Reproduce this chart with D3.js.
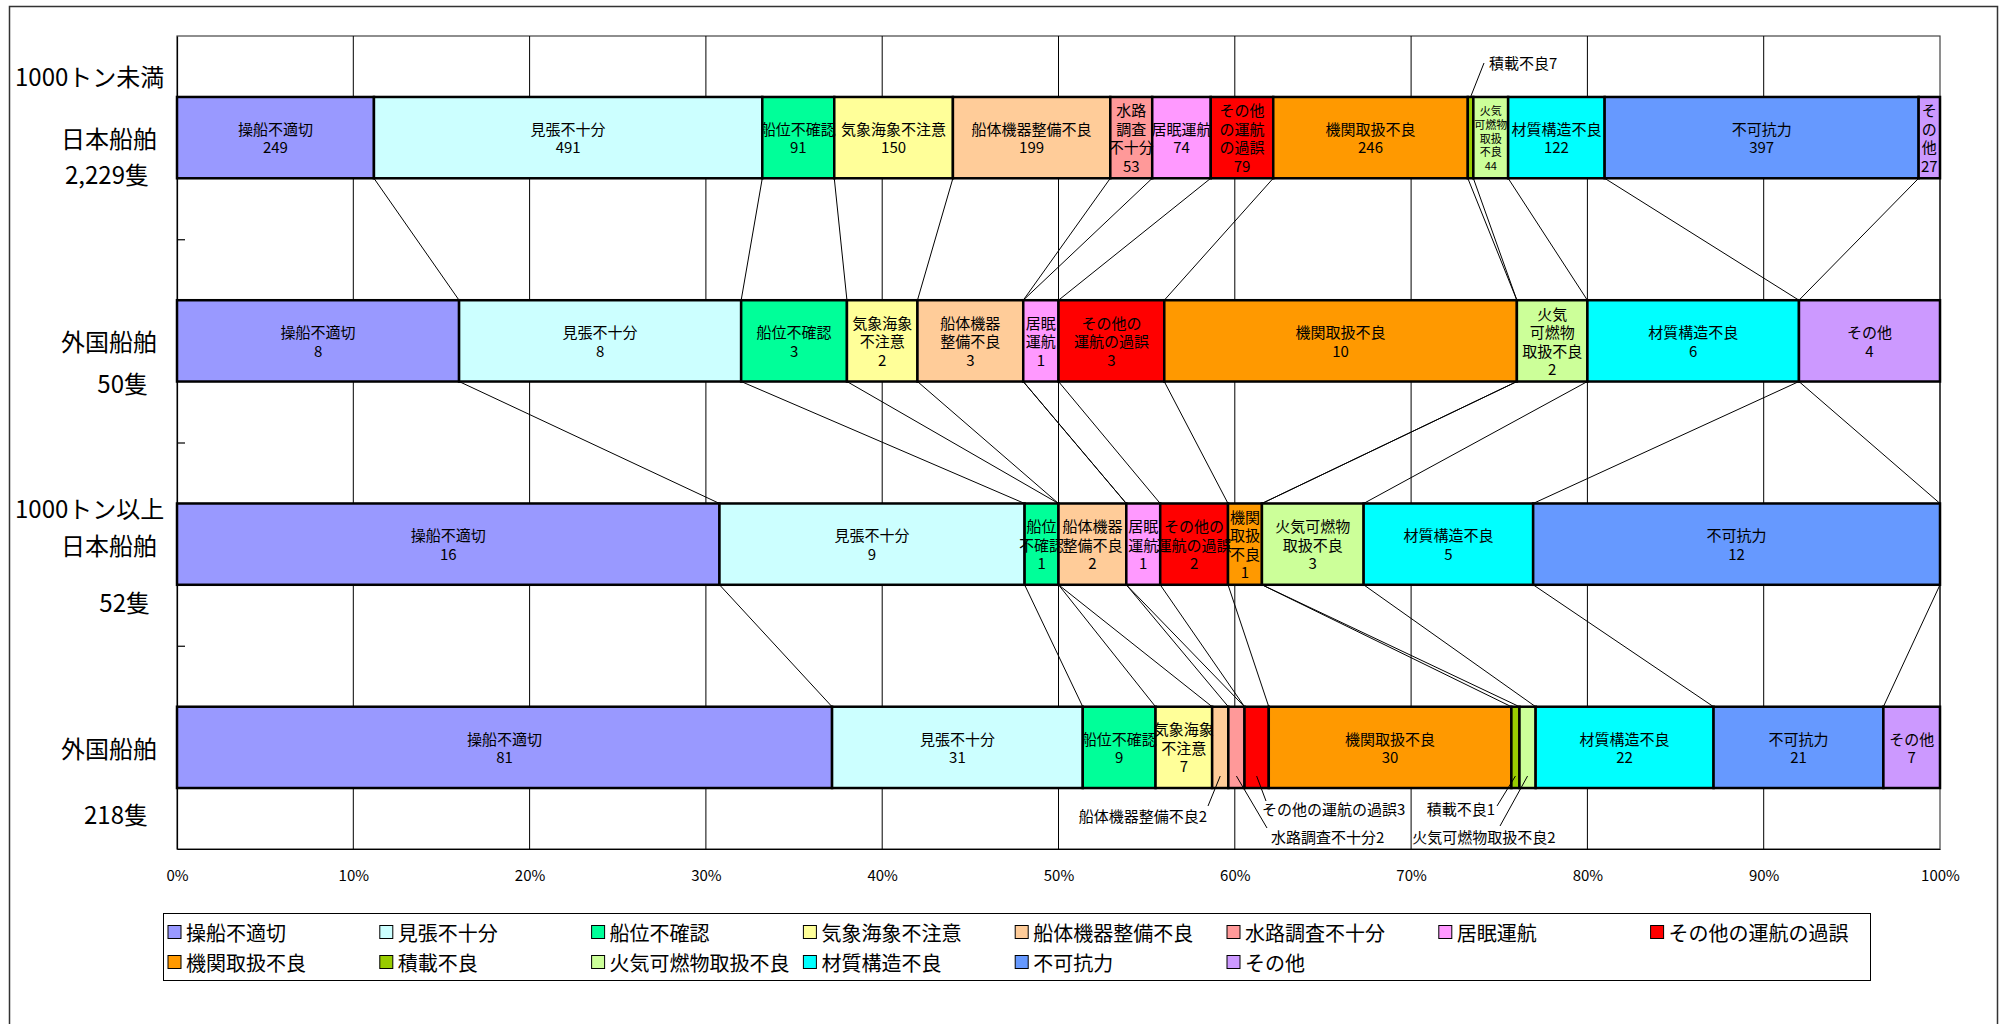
<!DOCTYPE html>
<html>
<head>
<meta charset="utf-8">
<script src="https://cdn.jsdelivr.net/npm/d3@7"></script>
<style>
  body { margin: 0; background: #fff; }
  text { font-family: "Noto Sans CJK JP", "Noto Sans", sans-serif; fill: #000; }
</style>
</head>
<body>
<svg id="chart" width="2013" height="1024"></svg>
<script>
// causes of accidents (series), in stacking order
var causes = ["操船不適切", "見張不十分", "船位不確認", "気象海象不注意", "船体機器整備不良", "水路調査不十分",
  "居眠運航", "その他の運航の過誤", "機関取扱不良", "積載不良", "火気可燃物取扱不良", "材質構造不良", "不可抗力", "その他"];
var colors = ["#9999FF", "#CCFFFF", "#00FF99", "#FFFF99", "#FFCC99", "#FF9999",
  "#FF99FF", "#FF0000", "#FF9900", "#99CC00", "#CCFF99", "#00FFFF", "#6699FF", "#CC99FF"];

// one array per bar (top to bottom)
var jpnUnder1000 = [249, 491, 91, 150, 199, 53, 74, 79, 246, 7, 44, 122, 397, 27];
var forUnder1000 = [8, 8, 3, 2, 3, 0, 1, 3, 10, 0, 2, 6, 0, 4];
var jpnOver1000 = [16, 9, 1, 0, 2, 0, 1, 2, 1, 0, 3, 5, 12, 0];
var forOver1000 = [81, 31, 9, 7, 2, 2, 0, 3, 30, 1, 2, 22, 21, 7];

// category labels on the left, line by line
var rowNames = [["1000トン未満", "日本船舶", "2,229隻"], ["外国船舶", "50隻"], ["1000トン以上", "日本船舶", "52隻"], ["外国船舶", "218隻"]];

// labels inside the segments ("|" = line break, null = no inner label)
var inLabels = [
  ["操船不適切", "見張不十分", "船位不確認", "気象海象不注意", "船体機器整備不良", "水路|調査|不十分", "居眠運航", "その他|の運航|の過誤", "機関取扱不良", null, "火気|可燃物|取扱|不良", "材質構造不良", "不可抗力", "そ|の|他"],
  ["操船不適切", "見張不十分", "船位不確認", "気象海象|不注意", "船体機器|整備不良", null, "居眠|運航", "その他の|運航の過誤", "機関取扱不良", null, "火気|可燃物|取扱不良", "材質構造不良", null, "その他"],
  ["操船不適切", "見張不十分", "船位|不確認", null, "船体機器|整備不良", null, "居眠|運航", "その他の|運航の過誤", "機関|取扱|不良", null, "火気可燃物|取扱不良", "材質構造不良", "不可抗力", null],
  ["操船不適切", "見張不十分", "船位不確認", "気象海象|不注意", null, null, null, null, "機関取扱不良", null, null, "材質構造不良", "不可抗力", "その他"]
];

// labels drawn outside with a leader line: [bar, cause]
var callouts = [[0, 9], [3, 4], [3, 7], [3, 5], [3, 9], [3, 10]];

var ticks = [0, 0.1, 0.2, 0.3, 0.4, 0.5, 0.6, 0.7, 0.8, 0.9, 1];

var bars = [jpnUnder1000, forUnder1000, jpnOver1000, forOver1000];

var svg = d3.select("#chart");
var plotL = 177, plotR = 1940, plotT = 36, plotB = 849;

var x = d3.scaleLinear().domain([0, 1]).range([plotL, plotR]);
var y = d3.scaleBand().domain(d3.range(bars.length)).range([plotT, plotB]).paddingInner(0.6).paddingOuter(0.3);
var bw = y.bandwidth();

var rows = bars.map(function(vals, i) {
  var o = {bar: i};
  causes.forEach(function(c, j) { o[c] = vals[j]; });
  return o;
});
var stacked = d3.stack().keys(causes).offset(d3.stackOffsetExpand)(rows);

// outer chart frame
svg.append("path")
  .attr("d", "M9.5,1030V6.5H1997.5V1030")
  .attr("fill", "none").attr("stroke", "#333").attr("stroke-width", 1.5);

// plot frame and grid
svg.append("rect")
  .attr("x", plotL).attr("y", plotT).attr("width", plotR - plotL).attr("height", plotB - plotT)
  .attr("fill", "#fff").attr("stroke", "#444").attr("stroke-width", 1.2);

svg.append("g").selectAll("line")
  .data(ticks.slice(1, -1))
  .enter().append("line")
  .attr("x1", function(d) { return x(d); }).attr("x2", function(d) { return x(d); })
  .attr("y1", plotT).attr("y2", plotB)
  .attr("stroke", "#000").attr("stroke-width", 1);

// x axis
var xAxis = svg.append("g")
  .attr("transform", "translate(0," + plotB + ")")
  .call(d3.axisBottom(x).tickValues(ticks).tickFormat(d3.format(".0%")).tickSize(0).tickSizeOuter(0).tickPadding(21));
xAxis.select(".domain").attr("stroke", "#000").attr("stroke-width", 1.2);
xAxis.selectAll("text").style("font-size", "15px").attr("fill", "#000");

// y axis with inside ticks between categories
var yb = d3.scaleLinear().domain([0, bars.length]).range([plotT, plotB]);
var yAxis = svg.append("g")
  .attr("transform", "translate(" + plotL + ",0)")
  .call(d3.axisLeft(yb).tickValues([1, 2, 3]).tickSize(-8).tickSizeOuter(0).tickFormat(""));
yAxis.selectAll("line, .domain").attr("stroke", "#000").attr("stroke-width", 1.2);

// series lines between adjacent bars
var sl = [];
for (var i = 0; i < bars.length - 1; i++) {
  for (var j = 0; j < causes.length; j++) {
    sl.push({x1: x(stacked[j][i][1]), y1: y(i) + bw, x2: x(stacked[j][i + 1][1]), y2: y(i + 1)});
  }
}
svg.append("g").selectAll("line")
  .data(sl)
  .enter().append("line")
  .attr("x1", function(d) { return d.x1; }).attr("y1", function(d) { return d.y1; })
  .attr("x2", function(d) { return d.x2; }).attr("y2", function(d) { return d.y2; })
  .attr("stroke", "#000").attr("stroke-width", 1);

// segments
var segs = [];
stacked.forEach(function(s, j) {
  s.forEach(function(d, i) {
    if (bars[i][j] > 0) segs.push({bar: i, cause: j, x0: d[0], x1: d[1], value: bars[i][j]});
  });
});

svg.append("g").selectAll("rect")
  .data(segs)
  .enter().append("rect")
  .attr("x", function(d) { return x(d.x0); })
  .attr("y", function(d) { return y(d.bar); })
  .attr("width", function(d) { return x(d.x1) - x(d.x0); })
  .attr("height", bw)
  .attr("fill", function(d) { return colors[d.cause]; })
  .attr("stroke", "#000").attr("stroke-width", 2.5);

// inner labels
var lab = svg.append("g");
segs.forEach(function(d) {
  var t = inLabels[d.bar][d.cause];
  if (!t) return;
  var small = (d.bar === 0 && d.cause === 10);
  var fs = small ? 11 : 15, lh = small ? 13.7 : 18.5;
  var lines = t.split("|").concat([String(d.value)]);
  var cx = (x(d.x0) + x(d.x1)) / 2, cy = y(d.bar) + bw / 2;
  lab.selectAll(null)
    .data(lines)
    .enter().append("text")
    .attr("x", cx)
    .attr("y", function(s, k) { return cy + (k - (lines.length - 1) / 2) * lh; })
    .attr("text-anchor", "middle")
    .attr("dominant-baseline", "central")
    .style("font-size", fs + "px")
    .text(function(s) { return s; });
});

// outside labels with leader lines
var calloutPos = [
  {tx: 1489, ty: 62, a: "start", lx: 1484, ly: 63, end: "top"},
  {tx: 1207, ty: 815, a: "end", lx: 1208, ly: 806, end: "in"},
  {tx: 1262, ty: 808, a: "start", lx: 1266, ly: 801, end: "in"},
  {tx: 1271, ty: 836, a: "start", lx: 1267, ly: 828, end: "in"},
  {tx: 1495, ty: 808, a: "end", lx: 1497, ly: 806, end: "in"},
  {tx: 1484, ty: 836, a: "middle", lx: 1500, ly: 826, end: "in"}
];
var co = svg.append("g");
callouts.forEach(function(c, k) {
  var b = c[0], j = c[1], p = calloutPos[k];
  var d = stacked[j][b];
  var sx = (x(d[0]) + x(d[1])) / 2;
  var sy = p.end === "top" ? y(b) : y(b) + bw - 12;
  co.append("line")
    .attr("x1", p.lx).attr("y1", p.ly).attr("x2", sx).attr("y2", sy)
    .attr("stroke", "#000").attr("stroke-width", 1);
  co.append("text")
    .attr("x", p.tx).attr("y", p.ty)
    .attr("text-anchor", p.a)
    .attr("dominant-baseline", "central")
    .style("font-size", "15px")
    .text(causes[j] + bars[b][j]);
});

// category names on the left
var rowLayout = [
  [{x: 15, dy: -62, a: "start"}, {x: 157, dy: 0, a: "end"}, {x: 149, dy: 36, a: "end"}],
  [{x: 157, dy: 0, a: "end"}, {x: 148, dy: 42, a: "end"}],
  [{x: 15, dy: -37, a: "start"}, {x: 157, dy: 0, a: "end"}, {x: 150, dy: 57, a: "end"}],
  [{x: 157, dy: 0, a: "end"}, {x: 148, dy: 66, a: "end"}]
];
var rn = svg.append("g");
rowNames.forEach(function(lines, i) {
  var cy = y(i) + bw / 2;
  lines.forEach(function(s, k) {
    var p = rowLayout[i][k];
    rn.append("text")
      .attr("x", p.x).attr("y", cy + p.dy)
      .attr("text-anchor", p.a)
      .attr("dominant-baseline", "central")
      .style("font-size", "24px")
      .text(s);
  });
});

// legend
var lg = svg.append("g");
lg.append("rect")
  .attr("x", 163.5).attr("y", 913.5).attr("width", 1707).attr("height", 67)
  .attr("fill", "#fff").attr("stroke", "#000").attr("stroke-width", 1);
var item = lg.selectAll("g.item")
  .data(causes)
  .enter().append("g")
  .attr("class", "item")
  .attr("transform", function(d, i) { return "translate(" + (168 + (i % 8) * 211.8) + "," + (932 + Math.floor(i / 8) * 30) + ")"; });
item.append("rect")
  .attr("x", 0).attr("y", -6.5).attr("width", 13).attr("height", 13)
  .attr("fill", function(d, i) { return colors[i]; })
  .attr("stroke", "#000").attr("stroke-width", 1);
item.append("text")
  .attr("x", 18).attr("y", 0)
  .attr("dominant-baseline", "central")
  .style("font-size", "20px")
  .text(function(d) { return d; });
</script>
</body>
</html>
